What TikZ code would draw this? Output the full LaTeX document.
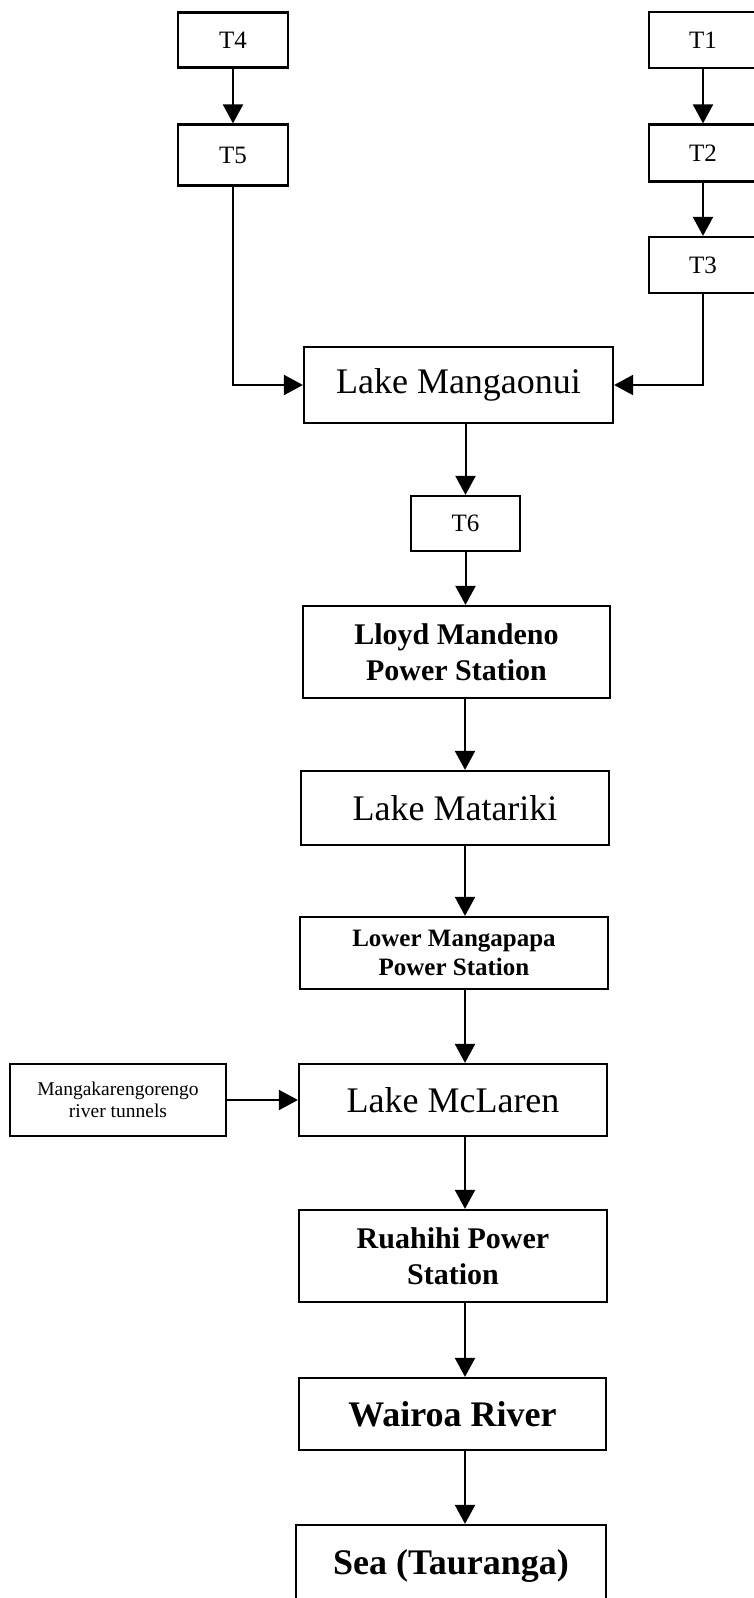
\documentclass[tikz,border=0pt]{standalone}
\usepackage{fontspec}
\setmainfont{Liberation Serif}
\usetikzlibrary{arrows.meta}
\begin{document}
\begin{tikzpicture}[x=1pt,y=-1pt,
  box/.style={draw, line width=2.2pt, inner sep=0pt, align=center},
  arr/.style={line width=2pt, -{Triangle[length=19pt,width=20pt]}},
  tlab/.style={font=\fontsize{25}{28}\selectfont},
  lake/.style={font=\fontsize{36}{40}\selectfont},
  station/.style={font=\bfseries\fontsize{30}{36}\selectfont},
  smallstation/.style={font=\bfseries\fontsize{25}{29}\selectfont},
  water/.style={font=\bfseries\fontsize{36}{40}\selectfont},
  tunnel/.style={font=\fontsize{19.5}{22}\selectfont}]
\useasboundingbox (0,0) rectangle (754,1598);
\fill[white] (0,0) rectangle (754,1598);

% column of the main flow arrows
\coordinate (col) at (465,0);

% tributary intakes
\node[box,tlab,minimum width=110,minimum height=55] (t4) at (233,40) {T4};
\node[box,tlab,minimum width=110,minimum height=61] (t5) at (233,155) {T5};
\node[box,tlab,minimum width=108,minimum height=56] (t1) at (703,40) {T1};
\node[box,tlab,minimum width=108,minimum height=57] (t2) at (703,153) {T2};
\node[box,tlab,minimum width=108,minimum height=56] (t3) at (703,265) {T3};

% main chain
\node[box,lake,minimum width=309,minimum height=76] (lm) at (458.5,385) {Lake Mangaonui};
\node[box,tlab,minimum width=109,minimum height=55] (t6) at (465.5,523.5) {T6};
\node[box,station,minimum width=307,minimum height=92] (lloyd) at (456.5,652) {Lloyd Mandeno\\Power Station};
\node[box,lake,minimum width=308,minimum height=74] (mat) at (455,808) {Lake Matariki};
\node[box,smallstation,minimum width=308,minimum height=72] (lower) at (454,953) {Lower Mangapapa\\Power Station};
\node[box,lake,minimum width=308,minimum height=72] (mcl) at (453,1100) {Lake McLaren};
\node[box,tunnel,minimum width=216,minimum height=72] (tun) at (118,1100) {Mangakarengorengo\\river tunnels};
\node[box,station,minimum width=308,minimum height=92] (rua) at (453,1256) {Ruahihi Power\\Station};
\node[box,water,minimum width=307,minimum height=72] (wai) at (452.5,1414) {Wairoa River};
\node[box,water,minimum width=310,minimum height=82] (sea) at (451,1566) {Sea (Tauranga)};

% connectors
\draw[arr] (t4) -- (t5);
\draw[arr] (t1) -- (t2);
\draw[arr] (t2) -- (t3);
\draw[arr] (t5.south) |- (lm.west);
\draw[arr] (t3.south) |- (lm.east);
\draw[arr] (lm.south -| t6.north) -- (t6.north);
\draw[arr] (t6.south) -- (t6.south |- lloyd.north);
\draw[arr] (lloyd.south -| col) -- (mat.north -| col);
\draw[arr] (mat.south -| col) -- (lower.north -| col);
\draw[arr] (lower.south -| col) -- (mcl.north -| col);
\draw[arr] (tun.east) -- (tun.east -| mcl.west);
\draw[arr] (mcl.south -| col) -- (rua.north -| col);
\draw[arr] (rua.south -| col) -- (wai.north -| col);
\draw[arr] (wai.south -| col) -- (sea.north -| col);
\end{tikzpicture}
\end{document}
